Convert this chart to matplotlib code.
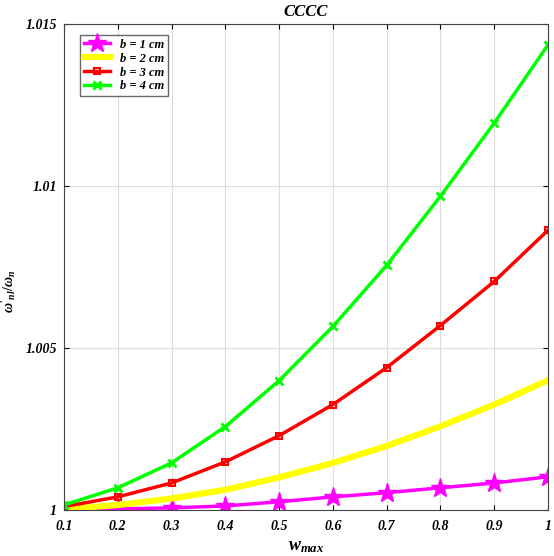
import numpy as np
import matplotlib.pyplot as plt

plt.rcParams['font.family'] = ['Liberation Serif', 'DejaVu Serif']
plt.rcParams['mathtext.fontset'] = 'custom'
plt.rcParams['mathtext.it'] = 'Liberation Serif:italic:bold'
plt.rcParams['mathtext.rm'] = 'Liberation Serif:bold'

w_max = [0.1, 0.2, 0.3, 0.4, 0.5, 0.6, 0.7, 0.8, 0.9, 1.0]
b1 = [1.0, 1.00003, 1.00006, 1.00012, 1.00025, 1.0004, 1.00053, 1.00068, 1.00083, 1.00102]
b2 = [1.00002, 1.00015, 1.00035, 1.00062, 1.001, 1.00145, 1.00197, 1.00258, 1.00325, 1.004]
b3 = [1.0001, 1.0004, 1.00083, 1.00148, 1.00229, 1.00325, 1.00439, 1.00569, 1.00705, 1.00863]
b4 = [1.00015, 1.00068, 1.00145, 1.00257, 1.00399, 1.00566, 1.00755, 1.00968, 1.01194, 1.01435]
labels = ['b = 1 cm', 'b = 2 cm', 'b = 3 cm', 'b = 4 cm']

fig = plt.figure(figsize=(5.54, 5.56), dpi=100)
ax = fig.add_axes([0.1155, 0.083, 0.8736, 0.874])

ax.plot(w_max, b1, color='#ff00ff', lw=2.5, marker='*', ms=14, label=labels[0])
ax.plot(w_max, b2, color='#ffff00', lw=4.5, label=labels[1])
ax.plot(w_max, b3, color='#ff0000', lw=2.5, marker='s', ms=5, mfc='none', mew=1.5, label=labels[2])
ax.plot(w_max, b4, color='#00ff00', lw=2.5, marker='x', ms=6, mew=2, label=labels[3])

ax.set_xlim(0.1, 1.0)
ax.set_ylim(1.0, 1.015)
ax.set_xticks(w_max)
ax.set_xticklabels(['0.1', '0.2', '0.3', '0.4', '0.5', '0.6', '0.7', '0.8', '0.9', '1'])
ax.set_yticks([1.0, 1.005, 1.01, 1.015])
ax.set_yticklabels(['1', '1.005', '1.01', '1.015'])
ax.tick_params(direction='in', top=True, right=True, labelsize=10)
ax.tick_params(axis='x', pad=7)
ax.tick_params(axis='y', pad=5)
for lab in ax.get_xticklabels() + ax.get_yticklabels():
    lab.set_fontweight('bold')
    lab.set_fontstyle('italic')
ax.grid(True, color='#dddddd', lw=0.8)
for s in ax.spines.values():
    s.set_color('#444444')

ax.set_title('CCCC', fontsize=12, fontweight='bold', style='italic', pad=6)
ax.set_xlabel(r'$w_{max}$', fontsize=13, labelpad=4)
ax.set_ylabel(r"$\omega'_{nl}/\omega_n$", fontsize=10)
ax.yaxis.set_label_coords(-0.095, 0.45)

leg = ax.legend(loc='upper left', bbox_to_anchor=(0.02, 0.99), fancybox=False,
                edgecolor='#444444', handlelength=2.1, borderpad=0.3,
                labelspacing=0.15, prop={'weight': 'bold', 'style': 'italic', 'size': 9})
leg.get_frame().set_linewidth(1)

fig.savefig('out.png', dpi=100)
